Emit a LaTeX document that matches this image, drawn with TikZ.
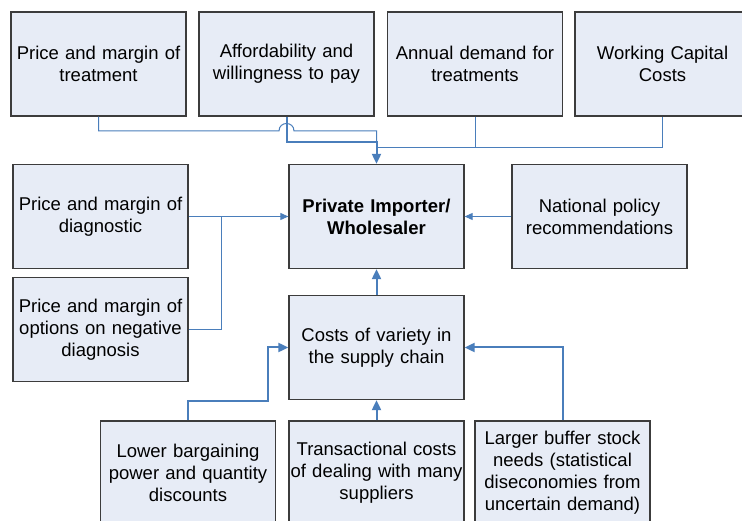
\documentclass[tikz,border=0pt]{standalone}
\usepackage{fontspec}
\setmainfont{Liberation Sans}
\usetikzlibrary{arrows.meta}
\definecolor{boxfill}{HTML}{E7ECF6}
\definecolor{boxline}{HTML}{3C3C3C}
\definecolor{conn}{HTML}{4A7EBB}
\tikzset{
  box/.style={draw=boxline, line width=1.3pt, fill=boxfill, minimum width=175pt,
    minimum height=104pt, text width=172pt, align=center, inner sep=0pt,
    font=\fontsize{18.5}{22}\selectfont},
  thin/.style={draw=conn, line width=1pt},
  thick/.style={draw=conn, line width=2pt},
  thinarr/.style={thin, -{Triangle[length=8pt,width=7pt]}},
  thickarr/.style={thick, -{Triangle[length=10pt,width=9pt]}}
}
\begin{document}
\begin{tikzpicture}[x=1pt,y=-1pt]
\useasboundingbox (0,0) rectangle (742,521);
\clip (0,0) rectangle (742,521);
\fill[white] (0,0) rectangle (742,521);
% top row
\node[box] (t1) at (98.5,64) {Price and margin of\\treatment};
\node[box] (t2) at (286.5,64) {Affordability and\\willingness to pay};
\node[box] (t3) at (475,64) {Annual demand for\\treatments};
\node[box] (t4) at (662.5,64) {Working Capital\\Costs};
% middle
\node[box] (diag) at (100.5,216.5) {Price and margin of\\diagnostic};
\node[box] (priv) at (376.5,216.5) {\textbf{Private Importer/}\\\textbf{Wholesaler}};
\node[box] (nat) at (599.5,216.5) {National policy\\recommendations};
\node[box] (opt) at (100.5,329.5) {Price and margin of\\options on negative\\diagnosis};
\node[box] (cost) at (376.5,347.5) {Costs of variety in\\the supply chain};
% bottom
\node[box] (low) at (188,473) {Lower bargaining\\power and quantity\\discounts};
\node[box] (trans) at (376.5,473) {Transactional costs\\of dealing with many\\suppliers};
\node[box] (buf) at (562.5,473) {Larger buffer stock\\needs (statistical\\diseconomies from\\uncertain demand)};
% connectors into private importer from top
\coordinate (hopL) at (279,131);
\coordinate (hopR) at (294,131);
\coordinate (jA) at (376.5,131);
\coordinate (jB) at (376.5,142);
\coordinate (jC) at (376.5,148);
\path[thin] (t1.south) |- (hopL) .. controls (279,121) and (294,121) .. (hopR) -- (jA) -- (jB);
\path[thickarr] (t2.south) |- (jB) -- (priv.north);
\path[thin] (t3.south) |- (jC);
\path[thin] (t4.south) |- (jC);
% left side
\path[thinarr] (diag.east) -- (priv.west);
\coordinate (jD) at (221,216.5);
\path[thin] (opt.east) -| (jD);
% right side
\path[thinarr] (nat.west) -- (priv.east);
% costs
\path[thickarr] (cost.north) -- (priv.south);
\coordinate (lowA) at (188,401);
\coordinate (lowB) at (268,347.5);
\path[thickarr] (low.north) -- (lowA) -| (lowB) -- (cost.west);
\path[thickarr] (trans.north) -- (cost.south);
\path[thickarr] (buf.north) |- (cost.east);
\end{tikzpicture}
\end{document}
